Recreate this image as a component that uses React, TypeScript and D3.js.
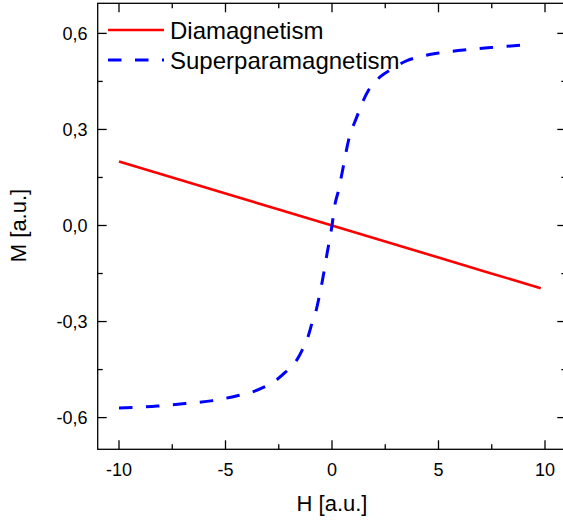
import React from "react";
import * as d3 from "d3";

// Applied field H [a.u.] and magnetisation M [a.u.]
const diaH = [-10, -5, 0, 5, 9.8];
const diaM = [0.2, 0.1, 0, -0.1, -0.196];

const superH = [
  -10, -8.2, -6.9, -5.6, -4.4, -3.7, -3.2, -2.6, -2.2, -1.7, -1.4, -1.1, -0.94,
  -0.74, -0.6, -0.45, -0.23, 0, 0.12, 0.31, 0.47, 0.78, 1.17, 1.48, 1.72, 2.27,
  2.74, 3.52, 4.0, 4.93, 6.18, 7.5, 9.1,
];
const superM = [
  -0.57, -0.564, -0.556, -0.547, -0.531, -0.519, -0.505, -0.482, -0.459, -0.425,
  -0.389, -0.342, -0.305, -0.264, -0.222, -0.172, -0.087, 0, 0.059, 0.111,
  0.163, 0.267, 0.34, 0.392, 0.423, 0.465, 0.486, 0.515, 0.525, 0.538, 0.548,
  0.556, 0.564,
];

const xTicks = [-10, -5, 0, 5, 10];
const xMinorTicks = [-7.5, -2.5, 2.5, 7.5];
const yTicks = [-0.6, -0.3, 0, 0.3, 0.6];
const yMinorTicks = [-0.45, -0.15, 0.15, 0.45];
const yTickLabels = ["-0,6", "-0,3", "0,0", "0,3", "0,6"];

const seriesNames = ["Diamagnetism", "Superparamagnetism"];
const xTitle = "H [a.u.]";
const yTitle = "M [a.u.]";

const W = 563;
const H = 523;
const FONT = "Arial, 'Liberation Sans', sans-serif";

export default function App() {
  const left = 97.7;
  const right = 566.3;
  const top = 3.3;
  const bottom = 449.3;

  const x = d3.scaleLinear().domain([-11, 11]).range([left, right]);
  const y = d3.scaleLinear().domain([-0.699, 0.694]).range([bottom, top]);

  const line = d3
    .line<[number, number]>()
    .x((d) => x(d[0]))
    .y((d) => y(d[1]))
    .curve(d3.curveMonotoneX);

  const diaPts = diaH.map((h, i) => [h, diaM[i]] as [number, number]);
  const supPts = superH.map((h, i) => [h, superM[i]] as [number, number]);

  const major = 9;
  const minor = 5;
  const axisColor = "#000";
  const sw = 1.3;

  return (
    <svg
      width={W}
      height={H}
      style={{ position: "absolute", left: 0, top: 0, background: "#fff" }}
      fontFamily={FONT}
    >
      <rect x={0} y={0} width={W} height={H} fill="#fff" />

      {/* data */}
      <path d={line(diaPts) || ""} fill="none" stroke="#ff0000" strokeWidth={2.6} />
      <path
        d={line(supPts) || ""}
        fill="none"
        stroke="#0000ff"
        strokeWidth={3}
        strokeDasharray="13.5 13.5"
      />

      {/* frame */}
      <rect
        x={left}
        y={top}
        width={right - left}
        height={bottom - top}
        fill="none"
        stroke={axisColor}
        strokeWidth={sw}
      />

      {/* x ticks (bottom and top, inward) */}
      {xTicks.map((t) => (
        <g key={"xt" + t}>
          <line x1={x(t)} x2={x(t)} y1={bottom} y2={bottom - major} stroke={axisColor} strokeWidth={sw} />
          <line x1={x(t)} x2={x(t)} y1={top} y2={top + major} stroke={axisColor} strokeWidth={sw} />
          <text x={x(t)} y={475.5} fontSize={18} textAnchor="middle" fill="#000">
            {t}
          </text>
        </g>
      ))}
      {xMinorTicks.map((t) => (
        <g key={"xm" + t}>
          <line x1={x(t)} x2={x(t)} y1={bottom} y2={bottom - minor} stroke={axisColor} strokeWidth={sw} />
          <line x1={x(t)} x2={x(t)} y1={top} y2={top + minor} stroke={axisColor} strokeWidth={sw} />
        </g>
      ))}

      {/* y ticks (left and right, inward) */}
      {yTicks.map((t, i) => (
        <g key={"yt" + t}>
          <line x1={left} x2={left + major} y1={y(t)} y2={y(t)} stroke={axisColor} strokeWidth={sw} />
          <line x1={right} x2={right - major} y1={y(t)} y2={y(t)} stroke={axisColor} strokeWidth={sw} />
          <text x={87.5} y={y(t)} dy="0.35em" fontSize={18} textAnchor="end" fill="#000">
            {yTickLabels[i]}
          </text>
        </g>
      ))}
      {yMinorTicks.map((t) => (
        <g key={"ym" + t}>
          <line x1={left} x2={left + minor} y1={y(t)} y2={y(t)} stroke={axisColor} strokeWidth={sw} />
          <line x1={right} x2={right - minor} y1={y(t)} y2={y(t)} stroke={axisColor} strokeWidth={sw} />
        </g>
      ))}

      {/* axis titles */}
      <text x={x(0)} y={511} fontSize={22} textAnchor="middle" fill="#000">
        {xTitle}
      </text>
      <text
        transform={`translate(26, ${y(0)}) rotate(-90)`}
        fontSize={22}
        textAnchor="middle"
        fill="#000"
      >
        {yTitle}
      </text>

      {/* legend */}
      <line x1={108} x2={164} y1={30} y2={30} stroke="#ff0000" strokeWidth={2.6} />
      <text x={170} y={39} fontSize={24} fill="#000">
        {seriesNames[0]}
      </text>
      <line
        x1={108}
        x2={164}
        y1={60}
        y2={60}
        stroke="#0000ff"
        strokeWidth={3}
        strokeDasharray="13.5 13.5"
      />
      <text x={170} y={69} fontSize={24} fill="#000">
        {seriesNames[1]}
      </text>
    </svg>
  );
}
